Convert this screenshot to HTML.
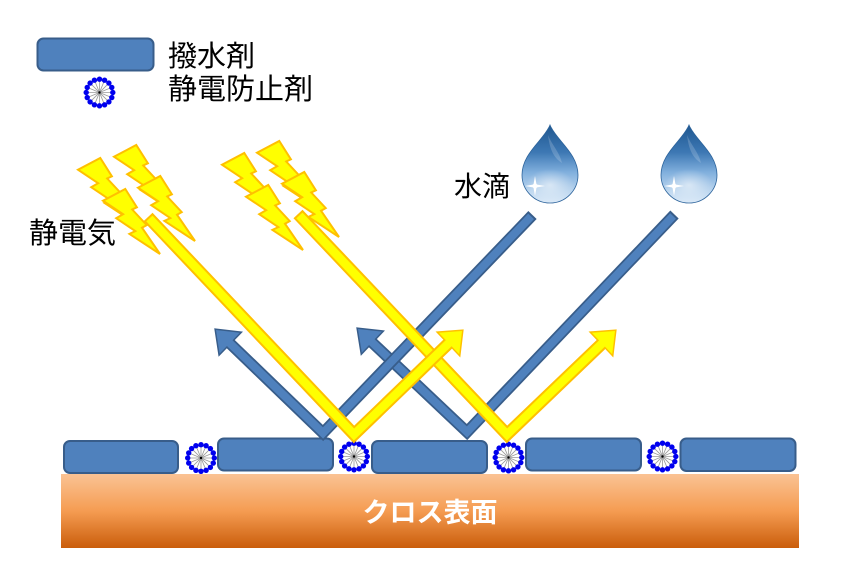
<!DOCTYPE html>
<html><head><meta charset="utf-8"><style>
html,body{margin:0;padding:0;background:#fff;}
svg{display:block;}
text{font-family:"Liberation Sans","Noto Sans CJK JP",sans-serif;}
</style></head><body>
<svg width="850" height="570" viewBox="0 0 850 570" xmlns="http://www.w3.org/2000/svg">
<defs>
  <linearGradient id="org" x1="0" y1="0" x2="0" y2="1">
    <stop offset="0" stop-color="#FAC394"/>
    <stop offset="0.5" stop-color="#F59C52"/>
    <stop offset="1" stop-color="#CA5D0B"/>
  </linearGradient>
  <linearGradient id="drop" x1="0" y1="0" x2="0" y2="1">
    <stop offset="0" stop-color="#1F5790"/>
    <stop offset="0.35" stop-color="#3D78B4"/>
    <stop offset="0.6" stop-color="#7FAEDC"/>
    <stop offset="0.85" stop-color="#BCD6EF"/>
    <stop offset="1" stop-color="#DDEBF8"/>
  </linearGradient>
  <radialGradient id="dhl" cx="0.5" cy="0.5" r="0.5">
    <stop offset="0" stop-color="#ffffff" stop-opacity="0.55"/>
    <stop offset="1" stop-color="#ffffff" stop-opacity="0"/>
  </radialGradient>
  <path id="bolt" d="M22.3,0 L33.9,18.3 L29.2,20.5 L43.7,36.1 L39,38.7 L57,65 L26.4,44.9 L32.3,42.1 L13.2,29.2 L20.1,25.2 L0,11.7 Z" fill="#FFFF00" stroke="#FFC000" stroke-width="2" stroke-linejoin="miter"/>
  <g id="as">
    <circle r="13.5" fill="#fff"/>
    <g stroke="#9a9a9a" stroke-width="0.8">
      <line x1="-11" y1="0" x2="11" y2="0"/>
      <line x1="0" y1="-11" x2="0" y2="11"/>
      <line x1="-7.8" y1="-7.8" x2="7.8" y2="7.8"/>
      <line x1="-7.8" y1="7.8" x2="7.8" y2="-7.8"/>
      <line x1="-10.2" y1="-4.2" x2="10.2" y2="4.2"/>
      <line x1="-10.2" y1="4.2" x2="10.2" y2="-4.2"/>
      <line x1="-4.2" y1="-10.2" x2="4.2" y2="10.2"/>
      <line x1="-4.2" y1="10.2" x2="4.2" y2="-10.2"/>
    </g>
    <circle r="1.2" fill="#000"/>
    <g fill="#0000EE">
      <circle cx="13.3" cy="0" r="2.7"/>
      <circle cx="12.29" cy="5.09" r="2.7"/>
      <circle cx="9.4" cy="9.4" r="2.7"/>
      <circle cx="5.09" cy="12.29" r="2.7"/>
      <circle cx="0" cy="13.3" r="2.7"/>
      <circle cx="-5.09" cy="12.29" r="2.7"/>
      <circle cx="-9.4" cy="9.4" r="2.7"/>
      <circle cx="-12.29" cy="5.09" r="2.7"/>
      <circle cx="-13.3" cy="0" r="2.7"/>
      <circle cx="-12.29" cy="-5.09" r="2.7"/>
      <circle cx="-9.4" cy="-9.4" r="2.7"/>
      <circle cx="-5.09" cy="-12.29" r="2.7"/>
      <circle cx="0" cy="-13.3" r="2.7"/>
      <circle cx="5.09" cy="-12.29" r="2.7"/>
      <circle cx="9.4" cy="-9.4" r="2.7"/>
      <circle cx="12.29" cy="-5.09" r="2.7"/>
    </g>
  </g>
  <g id="dropg">
    <path d="M0,-50 C6,-35 28,-22 28,0 A28,28 0 0 1 -28,0 C-28,-22 -6,-35 0,-50 Z" fill="url(#drop)" stroke="#2C639B" stroke-width="0.8"/>
    <ellipse cx="0" cy="10" rx="24" ry="16" fill="url(#dhl)"/>
    <path d="M-2,-40 C2,-30 10,-22 12,-12 C6,-16 0,-22 -2,-40 Z" fill="#ffffff" opacity="0.18"/>
    <path d="M-15,1 L-13.5,9.5 L-5,11 L-13.5,12.5 L-15,21 L-16.5,12.5 L-25,11 L-16.5,9.5 Z" fill="#ffffff"/>
    <circle cx="-15" cy="11" r="2.5" fill="#ffffff"/>
  </g>
</defs>

<!-- Legend -->
<rect x="37.5" y="38.5" width="116" height="32" rx="6" fill="#4F81BD" stroke="#385D8A" stroke-width="2"/>
<text x="168" y="66" font-size="29" fill="#000">撥水剤</text>
<use href="#as" transform="translate(99.5,92.5)"/>
<text x="168" y="99" font-size="29" fill="#000">静電防止剤</text>

<!-- Labels -->
<text x="29" y="243" font-size="29" fill="#000">静電気</text>
<text x="454" y="196" font-size="28" fill="#000">水滴</text>

<!-- Lightning bolts group 1 -->
<use href="#bolt" transform="translate(78,158)"/>
<use href="#bolt" transform="translate(114,145)"/>
<use href="#bolt" transform="translate(103,189)"/>
<use href="#bolt" transform="translate(138,176)"/>
<!-- Lightning bolts group 2 -->
<use href="#bolt" transform="translate(222,153)"/>
<use href="#bolt" transform="translate(257,141)"/>
<use href="#bolt" transform="translate(246,185)"/>
<use href="#bolt" transform="translate(282,172)"/>

<!-- Water drops -->
<use href="#dropg" transform="translate(550,175)"/>
<use href="#dropg" transform="translate(689,175)"/>

<!-- Surface -->
<rect x="61" y="474" width="738" height="74" fill="url(#org)"/>
<text x="430" y="522" font-size="27" font-weight="bold" fill="#fff" text-anchor="middle">クロス表面</text>

<!-- Repellent blocks -->
<g fill="#4F81BD" stroke="#385D8A" stroke-width="2">
  <rect x="64" y="441" width="114" height="32" rx="6"/>
  <rect x="218" y="438.5" width="115" height="32" rx="6"/>
  <rect x="372" y="441" width="115" height="32" rx="6"/>
  <rect x="526" y="438.5" width="115" height="32" rx="6"/>
  <rect x="680.5" y="438.5" width="115" height="32.5" rx="6"/>
</g>
<!-- Antistatic -->
<use href="#as" transform="translate(201,458)"/>
<use href="#as" transform="translate(354,456.5)"/>
<use href="#as" transform="translate(508.5,457.5)"/>
<use href="#as" transform="translate(662.5,456.5)"/>

<!-- Blue arrow 2 -->
<g>
  <polyline points="674.5,214.5 467,432 370.3,340.7" fill="none" stroke="#385D8A" stroke-width="11.5" stroke-linejoin="miter" stroke-miterlimit="10"/>
  <polygon points="358,329 381.8,331.6 361.8,352.6" fill="#385D8A" stroke="#385D8A" stroke-width="3" stroke-linejoin="miter"/>
  <polyline points="673.1,216 467,432 370.3,340.7" fill="none" stroke="#4F81BD" stroke-width="8" stroke-linejoin="miter" stroke-miterlimit="10"/>
  <polygon points="358,329 381.8,331.6 361.8,352.6" fill="#4F81BD"/>
</g>
<!-- Blue arrow 1 -->
<g>
  <polyline points="532.5,215 323,433 228,341.5" fill="none" stroke="#385D8A" stroke-width="11.5" stroke-linejoin="miter" stroke-miterlimit="10"/>
  <polygon points="216,330 239.8,332.8 219.6,353.6" fill="#385D8A" stroke="#385D8A" stroke-width="3" stroke-linejoin="miter"/>
  <polyline points="531.1,216.4 323,433 228,341.5" fill="none" stroke="#4F81BD" stroke-width="8" stroke-linejoin="miter" stroke-miterlimit="10"/>
  <polygon points="216,330 239.8,332.8 219.6,353.6" fill="#4F81BD"/>
</g>

<!-- Yellow arrow 2 -->
<g>
  <polyline points="298,214 507,434.5 604,341.6" fill="none" stroke="#FFC000" stroke-width="12.5" stroke-linejoin="miter" stroke-miterlimit="10"/>
  <polygon points="615,331 612.2,354.2 591.8,332.8" fill="#FFC000" stroke="#FFC000" stroke-width="3" stroke-linejoin="miter"/>
  <polyline points="299.4,215.5 507,434.5 604,341.6" fill="none" stroke="#FFFF00" stroke-width="8.5" stroke-linejoin="miter" stroke-miterlimit="10"/>
  <polygon points="615,331 612.2,354.2 591.8,332.8" fill="#FFFF00"/>
</g>
<!-- Yellow arrow 1 -->
<g>
  <polyline points="148,217 354,434.5 451,341" fill="none" stroke="#FFC000" stroke-width="12.5" stroke-linejoin="miter" stroke-miterlimit="10"/>
  <polygon points="462,331 459.2,354.2 438.8,332.8" fill="#FFC000" stroke="#FFC000" stroke-width="3" stroke-linejoin="miter"/>
  <polyline points="149.4,218.5 354,434.5 451,341" fill="none" stroke="#FFFF00" stroke-width="8.5" stroke-linejoin="miter" stroke-miterlimit="10"/>
  <polygon points="462,331 459.2,354.2 438.8,332.8" fill="#FFFF00"/>
</g>
</svg>
</body></html>
